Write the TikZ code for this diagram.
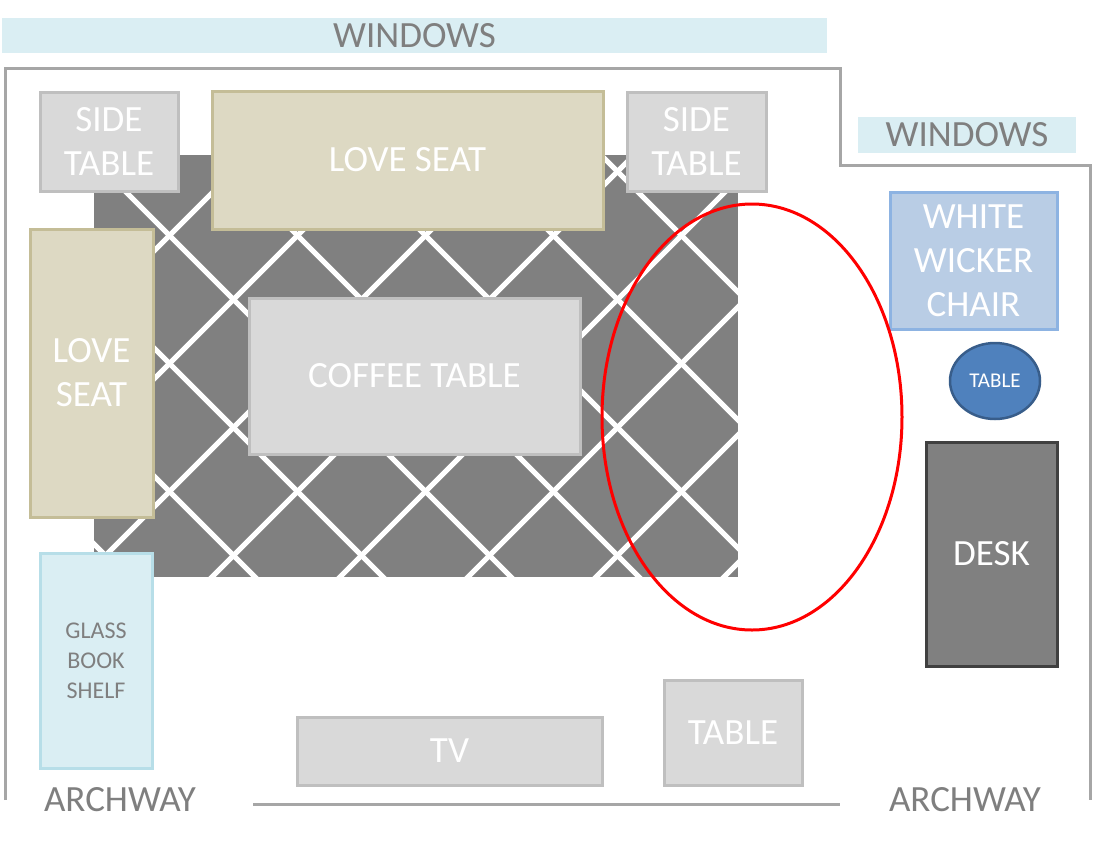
\documentclass[tikz,border=0pt]{standalone}
\usepackage{fontspec}
\usetikzlibrary{shapes.geometric}
\setmainfont{Carlito}
\definecolor{wall}{HTML}{A6A6A6}
\definecolor{winb}{HTML}{DAEEF3}
\definecolor{txtg}{HTML}{7F7F7F}
\definecolor{greyf}{HTML}{D9D9D9}
\definecolor{greyb}{HTML}{BFBFBF}
\definecolor{seatf}{HTML}{DDD9C3}
\definecolor{seatb}{HTML}{C4BD97}
\definecolor{shelfb}{HTML}{B7DEE8}
\definecolor{chairf}{HTML}{B9CDE5}
\definecolor{chairb}{HTML}{8DB3E2}
\definecolor{tabf}{HTML}{4F81BD}
\definecolor{tabb}{HTML}{385D8A}
\definecolor{rug}{HTML}{808080}
\tikzset{
  furn/.style={draw=greyb,fill=greyf,line width=3pt,text=white,align=center,font=\fontsize{37}{44}\selectfont},
  seat/.style={furn,draw=seatb,fill=seatf},
  lab/.style={text=txtg,font=\fontsize{37}{40}\selectfont},
}
\begin{document}
\begin{tikzpicture}[x=1pt,y=-1pt]
\useasboundingbox (0,0) rectangle (1093,844);
% windows
\node[fill=winb,minimum width=825,minimum height=35,inner sep=0,lab] (win1) at (414.5,35.5) {WINDOWS};
\node[fill=winb,minimum width=218,minimum height=36,inner sep=0,lab] (win2) at (967,135) {WINDOWS};
% walls
\draw[wall,line width=3pt] (5,800) -- (5,68) -- (840,68) -- (840,165) -- (1090,165) -- (1090,800);
\draw[wall,line width=3pt] (253,804) -- (840,804);
\node[lab] (arch1) at (120,800) {ARCHWAY};
\node[lab] (arch2) at (965,800) {ARCHWAY};
% rug
\fill[rug] (94,155) rectangle (738,577);
\begin{scope}
\clip (94,155) rectangle (738,577);
\foreach \k in {-8,...,6}{
  \draw[white,line width=5pt] ({1045+128*\k-100},100) -- ({1045+128*\k-700},700);
  \draw[white,line width=5pt] ({190+128*\k+100},100) -- ({190+128*\k+700},700);
}
\end{scope}
% furniture
\node[furn,minimum width=138,minimum height=99] (st1) at (109,141.5) {SIDE\\TABLE};
\node[seat,minimum width=391,minimum height=138] (ls1) at (407.5,160) {LOVE SEAT};
\node[furn,minimum width=139,minimum height=99] (st2) at (696.5,141.5) {SIDE\\TABLE};
\node[seat,minimum width=123,minimum height=288] (ls2) at (91.5,373) {LOVE\\SEAT};
\node[furn,minimum width=331,minimum height=156] (ct) at (414.5,376) {COFFEE TABLE};
\node[furn,draw=shelfb,fill=winb,minimum width=112,minimum height=215,text=txtg,font=\fontsize{24}{30}\selectfont] (gs) at (96,660.5) {GLASS\\BOOK\\SHELF};
\node[furn,minimum width=305,minimum height=68] (tv) at (449.5,751) {TV};
\node[furn,minimum width=138,minimum height=105] (tb) at (733,732.5) {TABLE};
\node[furn,draw=chairb,fill=chairf,minimum width=167,minimum height=137] (ch) at (973.5,260.5) {WHITE\\WICKER\\CHAIR};
\node[draw=tabb,fill=tabf,line width=2.5pt,ellipse,minimum width=90,minimum height=76,text=white,font=\fontsize{21}{22}\selectfont,inner sep=0] (rt) at (995,381) {TABLE};
\node[furn,draw=black!75,fill=rug,minimum width=131,minimum height=224] (desk) at (991.5,554) {DESK};
% red circle
\draw[red,line width=3pt] (752,417) ellipse [x radius=150,y radius=213];
\end{tikzpicture}
\end{document}
